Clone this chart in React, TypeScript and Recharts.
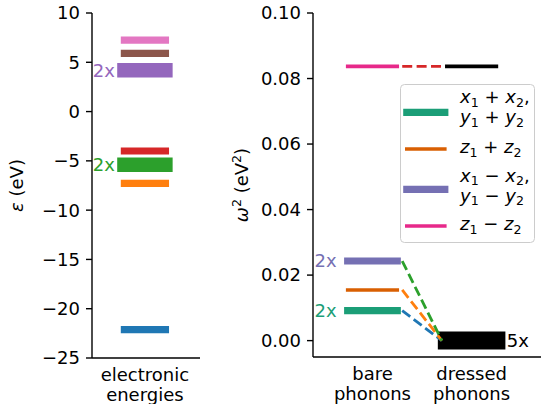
import React from "react";
import { ComposedChart, Line, Scatter, XAxis, YAxis, Legend, Label } from "recharts";

// electronic levels (eV), lowest first
const electronEnergies = [-22.12, -7.28, -5.4, -4.0, 4.19, 5.91, 7.25];
const electronDegeneracy = [1, 1, 2, 1, 2, 1, 1];
const electronColors = ["#1f77b4", "#ff7f0e", "#2ca02c", "#d62728", "#9467bd", "#8c564b", "#e377c2"];
const electronTicks = ["electronic\nenergies"];
const energyTicks = [-25, -20, -15, -10, -5, 0, 5, 10];

// phonon modes, omega^2 in eV^2
const modeLabels = [["x_1 + x_2,", "y_1 + y_2"], ["z_1 + z_2"], ["x_1 − x_2,", "y_1 − y_2"], ["z_1 − z_2"]];
const bareOmega2 = [0.00915, 0.01546, 0.0243, 0.0837];
const bareDegeneracy = [2, 1, 2, 1];
const modeColors = ["#1b9e77", "#d95f02", "#7570b3", "#e7298a"];
const dressedOmega2 = [0, 0.0837];
const dressedDegeneracy = [5, 1];
const connectorTargets = [0, 0, 0, 0.0837];
const connectorColors = ["#1f77b4", "#ff7f0e", "#2ca02c", "#d62728"];
const phononTicks = ["bare\nphonons", "dressed\nphonons"];
const omegaTicks = [0, 0.02, 0.04, 0.06, 0.08, 0.1];

const FONT = "DejaVu Sans";
const AXIS = { stroke: "#000", strokeWidth: 1.4 };
const ITALIC = "xyzεω";

const segment = (center: number, half: number, y: number) => [
  { x: center - half, y },
  { x: center + half, y },
];

// tiny mathtext: _d subscript, ^d superscript, letters in ITALIC are slanted
function mathSpans(src: string, fontSize: number) {
  const out: React.ReactNode[] = [];
  let shift = 0;
  for (let i = 0; i < src.length; i++) {
    const ch = src[i];
    if (ch === "_" || ch === "^") {
      const d = ch === "_" ? fontSize * 0.2 : -fontSize * 0.38;
      i++;
      out.push(
        <tspan key={i} dy={d - shift} fontSize={fontSize * 0.7}>
          {src[i]}
        </tspan>
      );
      shift = d;
    } else {
      out.push(
        <tspan key={i} dy={-shift} fontStyle={ITALIC.includes(ch) ? "italic" : undefined}>
          {ch}
        </tspan>
      );
      shift = 0;
    }
  }
  return out;
}

const TwoLineTick = ({ x, y, payload, labels }: any) => {
  const lines = String(labels[payload.value] ?? "").split("\n");
  return (
    <text x={x} y={y} textAnchor="middle" fontFamily={FONT} fontSize={18} fill="#000">
      {lines.map((l, i) => (
        <tspan key={i} x={x} y={y + 22.5 + i * 20.5}>
          {l}
        </tspan>
      ))}
    </text>
  );
};

const axisTitle = (src: string, dx: number) => (props: any) => {
  const vb = props.viewBox || { x: 0, y: 13, width: 0, height: 345 };
  const x = vb.x + dx;
  const y = vb.y + vb.height / 2;
  return (
    <text x={x} y={y} transform={`rotate(-90 ${x} ${y})`} textAnchor="middle" fontFamily={FONT} fontSize={18} fill="#000">
      {mathSpans(src, 18)}
    </text>
  );
};

const countLabel = (text: string, color: string, dx: number, anchor: "start" | "end") => (p: any) => (
  <text x={p.cx + dx} y={p.cy} dy="0.35em" textAnchor={anchor} fontFamily={FONT} fontSize={18} fill={color}>
    {text}
  </text>
);

const minusFmt = (v: number) => (v < 0 ? `\u2212${-v}` : `${v}`);

const LEGEND_ROWS = [
  { handle: 28.3, baselines: [19, 39] },
  { handle: 65, baselines: [69] },
  { handle: 105.3, baselines: [97.5, 117.5] },
  { handle: 142, baselines: [146] },
];

const PhononLegend = () => (
  <svg width={136} height={160} style={{ display: "block" }}>
    <rect x={0.5} y={0.5} width={134} height={158} rx={4} fill="#fff" fillOpacity={0.8} stroke="#cccccc" strokeWidth={1} />
    {modeLabels.map((lines, i) => (
      <g key={i}>
        <line
          x1={6.8}
          x2={44.8}
          y1={LEGEND_ROWS[i].handle}
          y2={LEGEND_ROWS[i].handle}
          stroke={modeColors[i]}
          strokeWidth={3.6 * bareDegeneracy[i]}
          strokeLinecap="square"
        />
        {lines.map((l, j) => (
          <text key={j} x={60} y={LEGEND_ROWS[i].baselines[j]} fontFamily={FONT} fontSize={18} fill="#000">
            {mathSpans(l, 18)}
          </text>
        ))}
      </g>
    ))}
  </svg>
);

export default function App() {
  return (
    <div style={{ position: "absolute", left: 0, top: 0, width: 545, height: 404, background: "#fff" }}>
      <div style={{ position: "absolute", left: 0, top: 0 }}>
        <ComposedChart width={215} height={404} margin={{ top: 13, right: 15, bottom: 0, left: 0 }}>
          <XAxis
            dataKey="x"
            type="number"
            domain={[-0.49, 0.51]}
            ticks={[0]}
            height={46}
            tickLine={false}
            tickSize={0}
            tickMargin={0}
            axisLine={AXIS}
            allowDataOverflow
            tick={(p: any) => <TwoLineTick {...p} labels={electronTicks} />}
          />
          <XAxis xAxisId="top" orientation="top" type="number" domain={[0, 1]} height={0} tick={false} tickLine={false} axisLine={AXIS} />
          <YAxis
            dataKey="y"
            type="number"
            domain={[-25, 10]}
            ticks={energyTicks}
            interval={0}
            width={92}
            tickSize={6}
            tickMargin={6}
            tickLine={AXIS}
            axisLine={AXIS}
            tickFormatter={minusFmt}
            tick={{ fontSize: 18, fontFamily: FONT, fill: "#000" }}
            allowDataOverflow
          >
            <Label content={axisTitle("ε (eV)", 23)} />
          </YAxis>
          <YAxis yAxisId="right" orientation="right" type="number" domain={[0, 1]} width={0} tick={false} tickLine={false} axisLine={AXIS} />
          {electronEnergies.map((e, i) => (
            <Line
              key={`e${i}`}
              data={segment(0, 0.19, e)}
              dataKey="y"
              stroke={electronColors[i]}
              strokeWidth={7.2 * electronDegeneracy[i]}
              strokeLinecap="square"
              dot={false}
              activeDot={false}
              isAnimationActive={false}
            />
          ))}
          {electronEnergies.map((e, i) =>
            electronDegeneracy[i] > 1 ? (
              <Scatter
                key={`el${i}`}
                data={[{ x: -0.19, y: e }]}
                dataKey="y"
                shape={countLabel(`${electronDegeneracy[i]}x`, electronColors[i], -9.5, "end")}
                isAnimationActive={false}
              />
            ) : null
          )}
        </ComposedChart>
      </div>

      <div style={{ position: "absolute", left: 215, top: 0 }}>
        <ComposedChart width={330} height={404} margin={{ top: 13, right: 4, bottom: 0, left: 0 }}>
          <XAxis
            dataKey="x"
            type="number"
            domain={[-0.6, 1.7]}
            ticks={[0, 1]}
            height={47}
            tickLine={false}
            tickSize={0}
            tickMargin={0}
            axisLine={AXIS}
            allowDataOverflow
            tick={(p: any) => <TwoLineTick {...p} labels={phononTicks} />}
          />
          <XAxis xAxisId="top" orientation="top" type="number" domain={[0, 1]} height={0} tick={false} tickLine={false} axisLine={AXIS} />
          <YAxis
            dataKey="y"
            type="number"
            domain={[-0.005, 0.1]}
            ticks={omegaTicks}
            interval={0}
            width={98}
            tickSize={6}
            tickMargin={6}
            tickLine={AXIS}
            axisLine={AXIS}
            tickFormatter={(v: number) => v.toFixed(2)}
            tick={{ fontSize: 18, fontFamily: FONT, fill: "#000" }}
            allowDataOverflow
          >
            <Label content={axisTitle("ω^2 (eV^2)", 33)} />
          </YAxis>
          <YAxis yAxisId="right" orientation="right" type="number" domain={[0, 1]} width={0} tick={false} tickLine={false} axisLine={AXIS} />
          {bareOmega2.map((w, i) => (
            <Line
              key={`b${i}`}
              data={segment(0, 0.25, w)}
              dataKey="y"
              stroke={modeColors[i]}
              strokeWidth={3.6 * bareDegeneracy[i]}
              strokeLinecap="square"
              dot={false}
              activeDot={false}
              isAnimationActive={false}
            />
          ))}
          {dressedOmega2.map((w, i) => (
            <Line
              key={`d${i}`}
              data={segment(1, 0.25, w)}
              dataKey="y"
              stroke="#000"
              strokeWidth={3.6 * dressedDegeneracy[i]}
              strokeLinecap="square"
              dot={false}
              activeDot={false}
              isAnimationActive={false}
            />
          ))}
          {bareOmega2.map((w, i) => (
            <Line
              key={`c${i}`}
              data={[
                { x: 0.3, y: w },
                { x: 0.7, y: connectorTargets[i] },
              ]}
              dataKey="y"
              stroke={connectorColors[i]}
              strokeWidth={2.8}
              strokeDasharray="10 4.4"
              dot={false}
              activeDot={false}
              isAnimationActive={false}
            />
          ))}
          {bareOmega2.map((w, i) =>
            bareDegeneracy[i] > 1 ? (
              <Scatter
                key={`bl${i}`}
                data={[{ x: -0.25, y: w }]}
                dataKey="y"
                shape={countLabel(`${bareDegeneracy[i]}x`, modeColors[i], -11, "end")}
                isAnimationActive={false}
              />
            ) : null
          )}
          {dressedOmega2.map((w, i) =>
            dressedDegeneracy[i] > 1 ? (
              <Scatter
                key={`dl${i}`}
                data={[{ x: 1.25, y: w }]}
                dataKey="y"
                shape={countLabel(`${dressedDegeneracy[i]}x`, "#000", 10.3, "start")}
                isAnimationActive={false}
              />
            ) : null
          )}
          <Legend
            layout="vertical"
            align="center"
            verticalAlign="middle"
            wrapperStyle={{ left: 185, top: 84, width: 136, height: 160 }}
            content={() => <PhononLegend />}
          />
        </ComposedChart>
      </div>
    </div>
  );
}
